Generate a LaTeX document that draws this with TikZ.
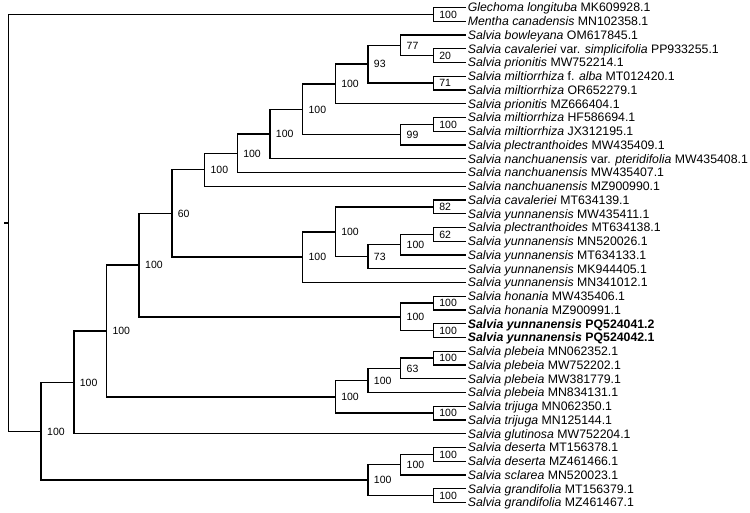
\documentclass[tikz,border=0pt]{standalone}
\usepackage{fontspec}
\setmainfont{Liberation Sans}
\newcommand\bootlab[2]{\node[bootstyle] (b#1) at (#1) {#2};}
\begin{document}
\begin{tikzpicture}[x=1pt,y=-1pt,
  branch/.style={line width=1.45pt,black},
  leafstyle/.style={anchor=west,inner sep=1.6pt,text height=8.9pt,text depth=0pt,font=\fontsize{12.3}{14}\selectfont},
  bootstyle/.style={anchor=west,inner sep=0.8pt,xshift=5pt,text height=7.5pt,text depth=0pt,font=\fontsize{10.5}{12}\selectfont}]
\useasboundingbox (0,0) rectangle (750,512);
% leaves
\node[leafstyle] (l1) at (466.02,7.5) {\textit{Glechoma longituba} MK609928.1};
\node[leafstyle] (l2) at (466.02,21.25) {\textit{Mentha canadensis} MN102358.1};
\node[leafstyle] (l3) at (466.02,35) {\textit{Salvia bowleyana} OM617845.1};
\node[leafstyle] (l4) at (466.02,48.75) {\textit{Salvia cavaleriei} var. \textit{simplicifolia} PP933255.1};
\node[leafstyle] (l5) at (466.02,62.5) {\textit{Salvia prionitis} MW752214.1};
\node[leafstyle] (l6) at (466.02,76.25) {\textit{Salvia miltiorrhiza} f. \textit{alba} MT012420.1};
\node[leafstyle] (l7) at (466.02,90) {\textit{Salvia miltiorrhiza} OR652279.1};
\node[leafstyle] (l8) at (466.02,103.75) {\textit{Salvia prionitis} MZ666404.1};
\node[leafstyle] (l9) at (466.02,117.5) {\textit{Salvia miltiorrhiza} HF586694.1};
\node[leafstyle] (l10) at (466.02,131.25) {\textit{Salvia miltiorrhiza} JX312195.1};
\node[leafstyle] (l11) at (466.02,145) {\textit{Salvia plectranthoides} MW435409.1};
\node[leafstyle] (l12) at (466.02,158.75) {\textit{Salvia nanchuanensis} var. \textit{pteridifolia} MW435408.1};
\node[leafstyle] (l13) at (466.02,172.5) {\textit{Salvia nanchuanensis} MW435407.1};
\node[leafstyle] (l14) at (466.02,186.25) {\textit{Salvia nanchuanensis} MZ900990.1};
\node[leafstyle] (l15) at (466.02,200) {\textit{Salvia cavaleriei} MT634139.1};
\node[leafstyle] (l16) at (466.02,213.75) {\textit{Salvia yunnanensis} MW435411.1};
\node[leafstyle] (l17) at (466.02,227.5) {\textit{Salvia plectranthoides} MT634138.1};
\node[leafstyle] (l18) at (466.02,241.25) {\textit{Salvia yunnanensis} MN520026.1};
\node[leafstyle] (l19) at (466.02,255) {\textit{Salvia yunnanensis} MT634133.1};
\node[leafstyle] (l20) at (466.02,268.75) {\textit{Salvia yunnanensis} MK944405.1};
\node[leafstyle] (l21) at (466.02,282.5) {\textit{Salvia yunnanensis} MN341012.1};
\node[leafstyle] (l22) at (466.02,296.25) {\textit{Salvia honania} MW435406.1};
\node[leafstyle] (l23) at (466.02,310) {\textit{Salvia honania} MZ900991.1};
\node[leafstyle] (l24) at (466.02,323.75) {\textbf{\textit{Salvia yunnanensis} PQ524041.2}};
\node[leafstyle] (l25) at (466.02,337.5) {\textbf{\textit{Salvia yunnanensis} PQ524042.1}};
\node[leafstyle] (l26) at (466.02,351.25) {\textit{Salvia plebeia} MN062352.1};
\node[leafstyle] (l27) at (466.02,365) {\textit{Salvia plebeia} MW752202.1};
\node[leafstyle] (l28) at (466.02,378.75) {\textit{Salvia plebeia} MW381779.1};
\node[leafstyle] (l29) at (466.02,392.5) {\textit{Salvia plebeia} MN834131.1};
\node[leafstyle] (l30) at (466.02,406.25) {\textit{Salvia trijuga} MN062350.1};
\node[leafstyle] (l31) at (466.02,420) {\textit{Salvia trijuga} MN125144.1};
\node[leafstyle] (l32) at (466.02,433.75) {\textit{Salvia glutinosa} MW752204.1};
\node[leafstyle] (l33) at (466.02,447.5) {\textit{Salvia deserta} MT156378.1};
\node[leafstyle] (l34) at (466.02,461.25) {\textit{Salvia deserta} MZ461466.1};
\node[leafstyle] (l35) at (466.02,475) {\textit{Salvia sclarea} MN520023.1};
\node[leafstyle] (l36) at (466.02,488.75) {\textit{Salvia grandifolia} MT156379.1};
\node[leafstyle] (l37) at (466.02,502.5) {\textit{Salvia grandifolia} MZ461467.1};
% internal nodes
\coordinate (O) at (433.34,14.375);
\coordinate (F10) at (433.34,55.625);
\coordinate (F8) at (400.66,45.3125);
\coordinate (F9) at (433.34,83.125);
\coordinate (F7) at (367.98,64.219);
\coordinate (F5) at (335.3,83.984);
\coordinate (F11) at (433.34,124.375);
\coordinate (F6) at (400.66,134.688);
\coordinate (F4) at (302.62,109.336);
\coordinate (F3) at (269.94,134.043);
\coordinate (F2) at (237.26,153.271);
\coordinate (F) at (204.58,169.761);
\coordinate (G5) at (433.34,234.375);
\coordinate (G4) at (400.66,244.688);
\coordinate (G3) at (367.98,256.719);
\coordinate (G2) at (433.34,206.875);
\coordinate (G1) at (335.3,231.797);
\coordinate (G) at (302.62,257.148);
\coordinate (E) at (171.9,213.455);
\coordinate (H1) at (433.34,303.125);
\coordinate (H2) at (433.34,330.625);
\coordinate (H) at (400.66,316.875);
\coordinate (D) at (139.22,265.165);
\coordinate (P4) at (433.34,358.125);
\coordinate (P3) at (400.66,368.438);
\coordinate (P1) at (367.98,380.469);
\coordinate (P2) at (433.34,413.125);
\coordinate (P) at (335.3,396.797);
\coordinate (C) at (106.54,330.981);
\coordinate (B) at (73.86,382.366);
\coordinate (Q3) at (433.34,454.375);
\coordinate (Q1) at (400.66,464.688);
\coordinate (Q2) at (433.34,495.625);
\coordinate (Q) at (367.98,480.156);
\coordinate (A) at (41.18,431.261);
\coordinate (R) at (8.5,222.818);
\coordinate (stub) at (4,222.818);
% branches to leaves
\draw[branch] (O) |- (l1.west) (O) |- (l2.west);
\draw[branch] (F8) |- (l3.west);
\draw[branch] (F10) |- (l4.west) (F10) |- (l5.west);
\draw[branch] (F9) |- (l6.west) (F9) |- (l7.west);
\draw[branch] (F5) |- (l8.west);
\draw[branch] (F11) |- (l9.west) (F11) |- (l10.west);
\draw[branch] (F6) |- (l11.west);
\draw[branch] (F3) |- (l12.west);
\draw[branch] (F2) |- (l13.west);
\draw[branch] (F) |- (l14.west);
\draw[branch] (G2) |- (l15.west) (G2) |- (l16.west);
\draw[branch] (G5) |- (l17.west) (G5) |- (l18.west);
\draw[branch] (G4) |- (l19.west);
\draw[branch] (G3) |- (l20.west);
\draw[branch] (G) |- (l21.west);
\draw[branch] (H1) |- (l22.west) (H1) |- (l23.west);
\draw[branch] (H2) |- (l24.west) (H2) |- (l25.west);
\draw[branch] (P4) |- (l26.west) (P4) |- (l27.west);
\draw[branch] (P3) |- (l28.west);
\draw[branch] (P1) |- (l29.west);
\draw[branch] (P2) |- (l30.west) (P2) |- (l31.west);
\draw[branch] (B) |- (l32.west);
\draw[branch] (Q3) |- (l33.west) (Q3) |- (l34.west);
\draw[branch] (Q1) |- (l35.west);
\draw[branch] (Q2) |- (l36.west) (Q2) |- (l37.west);
% internal branches
\draw[branch] (stub) -- (R);
\draw[branch] (R) |- (O) (R) |- (A);
\draw[branch] (A) |- (B) (A) |- (Q);
\draw[branch] (B) |- (C);
\draw[branch] (C) |- (D) (C) |- (P);
\draw[branch] (D) |- (E) (D) |- (H);
\draw[branch] (E) |- (F) (E) |- (G);
\draw[branch] (F) |- (F2);
\draw[branch] (F2) |- (F3);
\draw[branch] (F3) |- (F4);
\draw[branch] (F4) |- (F5) (F4) |- (F6);
\draw[branch] (F5) |- (F7);
\draw[branch] (F7) |- (F8) (F7) |- (F9);
\draw[branch] (F8) |- (F10);
\draw[branch] (F6) |- (F11);
\draw[branch] (G) |- (G1);
\draw[branch] (G1) |- (G2) (G1) |- (G3);
\draw[branch] (G3) |- (G4);
\draw[branch] (G4) |- (G5);
\draw[branch] (H) |- (H1) (H) |- (H2);
\draw[branch] (P) |- (P1) (P) |- (P2);
\draw[branch] (P1) |- (P3);
\draw[branch] (P3) |- (P4);
\draw[branch] (Q) |- (Q1) (Q) |- (Q2);
\draw[branch] (Q1) |- (Q3);
% bootstrap values
\bootlab{O}{100}
\bootlab{F10}{20}
\bootlab{F8}{77}
\bootlab{F9}{71}
\bootlab{F7}{93}
\bootlab{F5}{100}
\bootlab{F11}{100}
\bootlab{F6}{99}
\bootlab{F4}{100}
\bootlab{F3}{100}
\bootlab{F2}{100}
\bootlab{F}{100}
\bootlab{G5}{62}
\bootlab{G4}{100}
\bootlab{G3}{73}
\bootlab{G2}{82}
\bootlab{G1}{100}
\bootlab{G}{100}
\bootlab{E}{60}
\bootlab{H1}{100}
\bootlab{H2}{100}
\bootlab{H}{100}
\bootlab{D}{100}
\bootlab{P4}{100}
\bootlab{P3}{63}
\bootlab{P1}{100}
\bootlab{P2}{100}
\bootlab{P}{100}
\bootlab{C}{100}
\bootlab{B}{100}
\bootlab{Q3}{100}
\bootlab{Q1}{100}
\bootlab{Q2}{100}
\bootlab{Q}{100}
\bootlab{A}{100}
\end{tikzpicture}
\end{document}
